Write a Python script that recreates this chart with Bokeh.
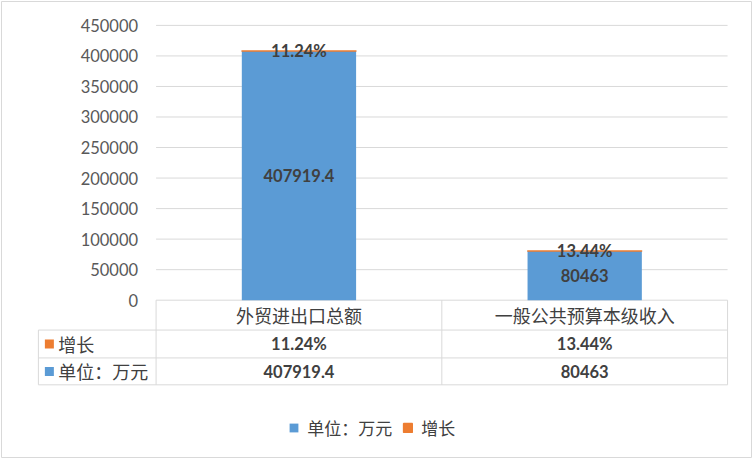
from bokeh.plotting import figure
from bokeh.models import (Range1d, FixedTicker, NumeralTickFormatter, Legend,
                          LegendItem, ColumnDataSource)
from bokeh.core.properties import value
from bokeh.embed import file_html
from bokeh.resources import INLINE

# ---------------- data ----------------
categories = ["外贸进出口总额", "一般公共预算本级收入"]
amount_name = "单位：万元"
growth_name = "增长"
amount = [407919.4, 80463]
growth = [11.24, 13.44]
amount_labels = ["407919.4", "80463"]
growth_labels = ["11.24%", "13.44%"]
y_ticks = [0, 50000, 100000, 150000, 200000, 250000, 300000, 350000, 400000, 450000]

# ---------------- style ----------------
BLUE = "#5B9BD5"
ORANGE = "#ED7D31"
GRID = "#D9D9D9"
TEXT = "#404040"
AXIS_TEXT = "#595959"
CJK = "Noto Sans CJK SC"
NUM = "Lato"

W, H = 752, 458
B = 1
FW, FH = W - 2 * B, H - 2 * B
REF_W, REF_H = 752, 458
sx, sy = FW / REF_W, FH / REF_H

# layout (reference pixel positions)
PLOT_L, PLOT_R = 155, 728
Y_TOP_PX, Y_ZERO_PX = 24, 300
TABLE_L = 37
ROW_LINES = [330, 358, 385]
HEADER_MID = 315
ROW_MIDS = [344, 371.5]
LEGEND_MID = 427
LEGEND_X = 288
KEY_X = 48
ROW_LABEL_X = 57

n = len(categories)
ymax = y_ticks[-1]
ppu_y = (Y_ZERO_PX - Y_TOP_PX) * sy / ymax
ppu_x = (PLOT_R - PLOT_L) * sx / n


def yd(py):
    return (Y_ZERO_PX - py) * sy / ppu_y


def xd(px):
    return (px - PLOT_L) * sx / ppu_x


p = figure(width=W, height=H, output_backend="svg", toolbar_location=None,
           x_range=Range1d(xd(0), xd(REF_W)), y_range=Range1d(yd(REF_H), yd(0)),
           x_axis_type=None, min_border=B)
p.background_fill_color = "white"
p.border_fill_color = "white"
p.outline_line_color = GRID
p.outline_line_width = 1
p.grid.visible = False

ax = p.yaxis[0]
ax.fixed_location = 0
ax.ticker = FixedTicker(ticks=y_ticks)
ax.formatter = NumeralTickFormatter(format="0")
ax.axis_line_color = None
ax.major_tick_line_color = None
ax.minor_tick_line_color = None
ax.major_label_standoff = 12
ax.major_label_text_font = NUM
ax.major_label_text_font_size = "16.5px"
ax.major_label_text_color = AXIS_TEXT

# grid lines across the plot area
p.segment(x0=[0] * len(y_ticks), x1=[n] * len(y_ticks), y0=y_ticks, y1=y_ticks,
          line_color=GRID, line_width=1)

# data table lines
p.segment(x0=[xd(TABLE_L)] * len(ROW_LINES), x1=[n] * len(ROW_LINES),
          y0=[yd(r) for r in ROW_LINES], y1=[yd(r) for r in ROW_LINES],
          line_color=GRID, line_width=1)
p.segment(x0=[xd(TABLE_L)], x1=[xd(TABLE_L)], y0=[yd(ROW_LINES[0])], y1=[yd(ROW_LINES[-1])],
          line_color=GRID, line_width=1)
p.segment(x0=list(range(n + 1)), x1=list(range(n + 1)), y0=[0] * (n + 1),
          y1=[yd(ROW_LINES[-1])] * (n + 1), line_color=GRID, line_width=1)

src = ColumnDataSource(dict(
    x=[i + 0.5 for i in range(n)],
    amount=amount,
    top=[a + g for a, g in zip(amount, growth)],
    amid=[a / 2 for a in amount],
    alab=amount_labels,
    glab=growth_labels,
))

r_amount = p.vbar(x="x", width=0.4, bottom=0, top="amount", source=src,
                  fill_color=BLUE, line_color=None)
r_growth = p.vbar(x="x", width=0.4, bottom="amount", top="top", source=src,
                  fill_color=ORANGE, line_color=ORANGE, line_width=1.5)

p.text(x="x", y="amid", text="alab", source=src, text_font=value(NUM),
       text_font_style="bold", text_font_size="16.5px", text_color=TEXT,
       text_align="center", text_baseline="middle")
p.text(x="x", y="top", text="glab", source=src, text_font=value(NUM),
       text_font_style="bold", text_font_size="16.5px", text_color=TEXT,
       text_align="center", text_baseline="middle")

# table header (categories)
p.text(x=[i + 0.5 for i in range(n)], y=[yd(HEADER_MID)] * n, text=categories,
       text_font=value(CJK), text_font_size="18px", text_color=TEXT,
       text_align="center", text_baseline="middle")
# table values
p.text(x=[i + 0.5 for i in range(n)], y=[yd(ROW_MIDS[0])] * n, text=growth_labels,
       text_font=value(NUM), text_font_style="bold", text_font_size="16.5px",
       text_color=TEXT, text_align="center", text_baseline="middle")
p.text(x=[i + 0.5 for i in range(n)], y=[yd(ROW_MIDS[1])] * n, text=amount_labels,
       text_font=value(NUM), text_font_style="bold", text_font_size="16.5px",
       text_color=TEXT, text_align="center", text_baseline="middle")
# table row labels with keys
p.scatter(x=[xd(KEY_X)] * 2, y=[yd(r) for r in ROW_MIDS], marker="square", size=9,
          fill_color=[ORANGE, BLUE], line_color=None)
p.text(x=[xd(ROW_LABEL_X)] * 2, y=[yd(r) for r in ROW_MIDS], text=[growth_name, amount_name],
       text_font=value(CJK), text_font_size="18px", text_color=TEXT,
       text_align="left", text_baseline="middle")

legend = Legend(items=[LegendItem(label=amount_name, renderers=[r_amount]),
                       LegendItem(label=growth_name, renderers=[r_growth])],
                orientation="horizontal",
                location=(LEGEND_X * sx, FH - LEGEND_MID * sy - 14))
legend.background_fill_alpha = 0
legend.border_line_color = None
legend.padding = 0
legend.margin = 0
legend.spacing = 10
legend.label_standoff = 8
legend.glyph_width = 11
legend.glyph_height = 11
legend.label_height = 20
legend.label_text_font = CJK
legend.label_text_font_size = "17px"
legend.label_text_color = TEXT
legend.label_text_baseline = "middle"
p.add_layout(legend, "center")

open("out.html", "w").write(file_html(p, INLINE))
